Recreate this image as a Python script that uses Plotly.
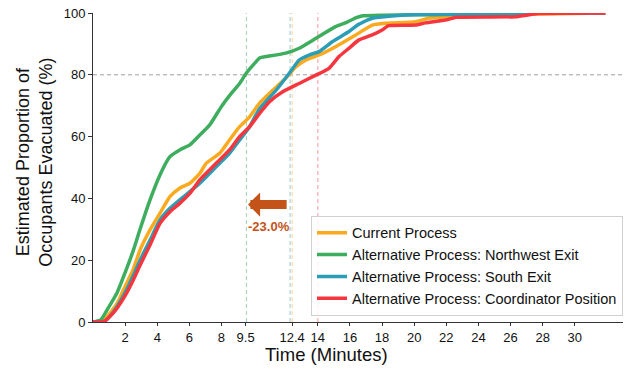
import plotly.graph_objects as go

# ---------------- data ----------------
current_t = [0, 0.6, 1.0, 1.5, 2.0, 2.5, 2.93, 3.55, 4.17, 4.79, 5.4, 6.03, 6.65, 7.06, 7.89, 8.5,
             9.13, 9.75, 10.37, 11.19, 12.0, 12.64, 13.26, 14.08, 15.1, 16.36, 17.39, 18.2, 20.07,
             20.9, 22.1, 23.0, 27.0, 31.9]
current_v = [0, 0.3, 2.5, 6, 11.5, 17, 23.3, 29.8, 35.2, 40.6, 43.3, 44.9, 48.1, 51.4, 54.6, 58.9,
             63.2, 66.4, 70.8, 75, 78.9, 82.6, 84.8, 86.4, 89.1, 92.9, 96.1, 96.7, 97.2,
             98.3, 98.8, 99.2, 99.6, 100]

northwest_t = [0, 0.5, 1.0, 1.5, 2.0, 2.5, 2.93, 3.55, 4.17, 4.79, 5.4, 6.03, 6.65, 7.27, 7.99, 8.61,
               9.13, 9.54, 10.06, 10.4, 10.78, 12.0, 12.84, 13.88, 15.1, 15.8, 16.4, 16.8, 18, 20,
               22, 24, 26, 27, 31.9]
northwest_v = [0, 0.8, 5, 9.5, 16, 23, 30, 39.5, 47.6, 53.5, 55.7, 57.3, 60.5, 63.8, 69.7, 74,
               77.2, 80.5, 83.7, 85.5, 85.9, 87, 88.6, 91.8, 95.6, 97, 98.5, 99.1, 99.3, 99.4,
               99.5, 99.6, 99.7, 100, 100]

south_t = [0, 0.7, 1.0, 1.5, 2.0, 2.5, 2.93, 3.55, 4.17, 4.79, 5.4, 6.03, 6.65, 7.68, 8.5, 9.13,
           9.75, 10.37, 11.4, 12.22, 12.84, 13.46, 14.08, 14.9, 15.94, 16.56, 17.39, 18.6, 20.28,
           24, 27.3, 31.9]
south_v = [0, 0.2, 1.5, 5, 9.5, 15, 20, 26.5, 33, 36.8, 39.5, 42.2, 44.9, 50.3, 54.6, 58.9,
           63.2, 69, 75, 80.5, 84.8, 86.4, 87.5, 90.7, 94, 96.4, 98.3, 99, 99.5,
           99.6, 100, 100]

coordinator_t = [0, 0.7, 1.0, 1.5, 2.0, 2.5, 2.93, 3.55, 4.17, 4.79, 5.4, 6.03, 6.65, 7.47, 8.5,
                 9.13, 9.75, 10.37, 10.99, 11.81, 12.84, 13.88, 14.7, 15.32, 15.94, 16.56, 17.39,
                 18.0, 18.4, 20.07, 20.7, 22.1, 22.6, 26.3, 27.7, 31.9]
coordinator_v = [0, 0.2, 1.5, 4.5, 8.5, 13.5, 18.4, 24.9, 31.9, 35.7, 38.4, 41.6, 46, 50.3, 55.7,
                 60, 63.2, 67.5, 71.3, 74.5, 77.2, 79.9, 82.1, 85.9, 88.6, 91.3, 92.9,
                 94.5, 95.9, 96.1, 96.8, 97.9, 98.6, 98.8, 99.8, 100]

series_names = ["Current Process",
                "Alternative Process: Northwest Exit",
                "Alternative Process: South Exit",
                "Alternative Process: Coordinator Position"]
series_colors = ["#FBAA1F", "#3EAD5E", "#2B9DB5", "#F5363F"]

# time at which each process reaches 80 % evacuated
t80 = [12.4, 9.55, 12.27, 14.0]
threshold = 80

x_tickvals = [2, 4, 6, 8, 9.5, 12.4, 14, 16, 18, 20, 22, 24, 26, 28, 30]
x_ticktext = ["2", "4", "6", "8", "9.5", "12.4", "14", "16", "18", "20", "22", "24", "26", "28", "30"]
y_tickvals = [0, 20, 40, 60, 80, 100]

arrow_color = "#C4531A"
FONT = "Liberation Sans, Arial, Helvetica, sans-serif"

# ---------------- figure ----------------
fig = go.Figure()
all_t = [current_t, northwest_t, south_t, coordinator_t]
all_v = [current_v, northwest_v, south_v, coordinator_v]
for t, v, name, col in zip(all_t, all_v, series_names, series_colors):
    fig.add_trace(go.Scatter(x=t, y=v, mode="lines", name=name,
                             line=dict(color=col, width=3.5, shape="spline", smoothing=0.5)))

# vertical markers at 80% crossing
for tt, col in zip(t80, series_colors):
    fig.add_shape(type="line", xref="x", yref="y", x0=tt, x1=tt, y0=0, y1=100,
                  line=dict(color=col, width=1, dash="4px,3px"), opacity=0.5, layer="below")
# horizontal threshold line
fig.add_shape(type="line", xref="paper", yref="y", x0=0, x1=1, y0=threshold, y1=threshold,
              line=dict(color="#a0a0a0", width=1, dash="4px,3px"), layer="below")

# arrow showing improvement
best, base = t80[1], t80[0]
pct = (best - base) / base * 100
fig.add_annotation(x=best + 0.1, y=38, ax=base - 0.25, ay=38, xref="x", yref="y",
                   axref="x", ayref="y", showarrow=True, arrowhead=1, arrowsize=0.45,
                   arrowwidth=9, arrowcolor=arrow_color, text="")
fig.add_annotation(x=(best + base) / 2, y=31, xref="x", yref="y", showarrow=False,
                   text=f"<b>{pct:.1f}%</b>", font=dict(size=13, color=arrow_color, family=FONT))

# axis titles as annotations
fig.add_annotation(x=0.44, y=-0.105, xref="paper", yref="paper", showarrow=False,
                   text="Time (Minutes)", font=dict(size=18.5, color="#111", family=FONT),
                   xanchor="center", yanchor="middle")
fig.add_annotation(x=-0.11, y=0.518, xref="paper", yref="paper", showarrow=False,
                   text="Estimated Proportion of<br>Occupants Evacuated (%)", textangle=-90,
                   font=dict(size=18, color="#111", family=FONT),
                   xanchor="center", yanchor="middle")

fig.update_layout(
    width=628, height=369,
    margin=dict(l=93, r=5, t=13, b=47),
    paper_bgcolor="white", plot_bgcolor="white",
    font=dict(family=FONT, size=13, color="#111"),
    showlegend=True,
    legend=dict(x=1.0, xanchor="right", y=0.02, yanchor="bottom",
                bgcolor="rgba(255,255,255,0.85)", bordercolor="#d0d0d0", borderwidth=1,
                font=dict(size=14.5, family=FONT), tracegroupgap=0),
)
fig.update_xaxes(range=[0, 33], tickmode="array", tickvals=x_tickvals, ticktext=x_ticktext,
                 showgrid=False, zeroline=False, showline=True, linecolor="#333", linewidth=1,
                 ticks="outside", ticklen=3, tickcolor="#333", tickfont=dict(size=13))
fig.update_yaxes(range=[0, 100], tickmode="array", tickvals=y_tickvals,
                 showgrid=False, zeroline=False, showline=True, linecolor="#333", linewidth=1,
                 ticks="outside", ticklen=4, tickcolor="#333", tickfont=dict(size=13))

fig.write_html("out.html", config={"displayModeBar": False},
               post_script="document.body.style.margin='0';")
